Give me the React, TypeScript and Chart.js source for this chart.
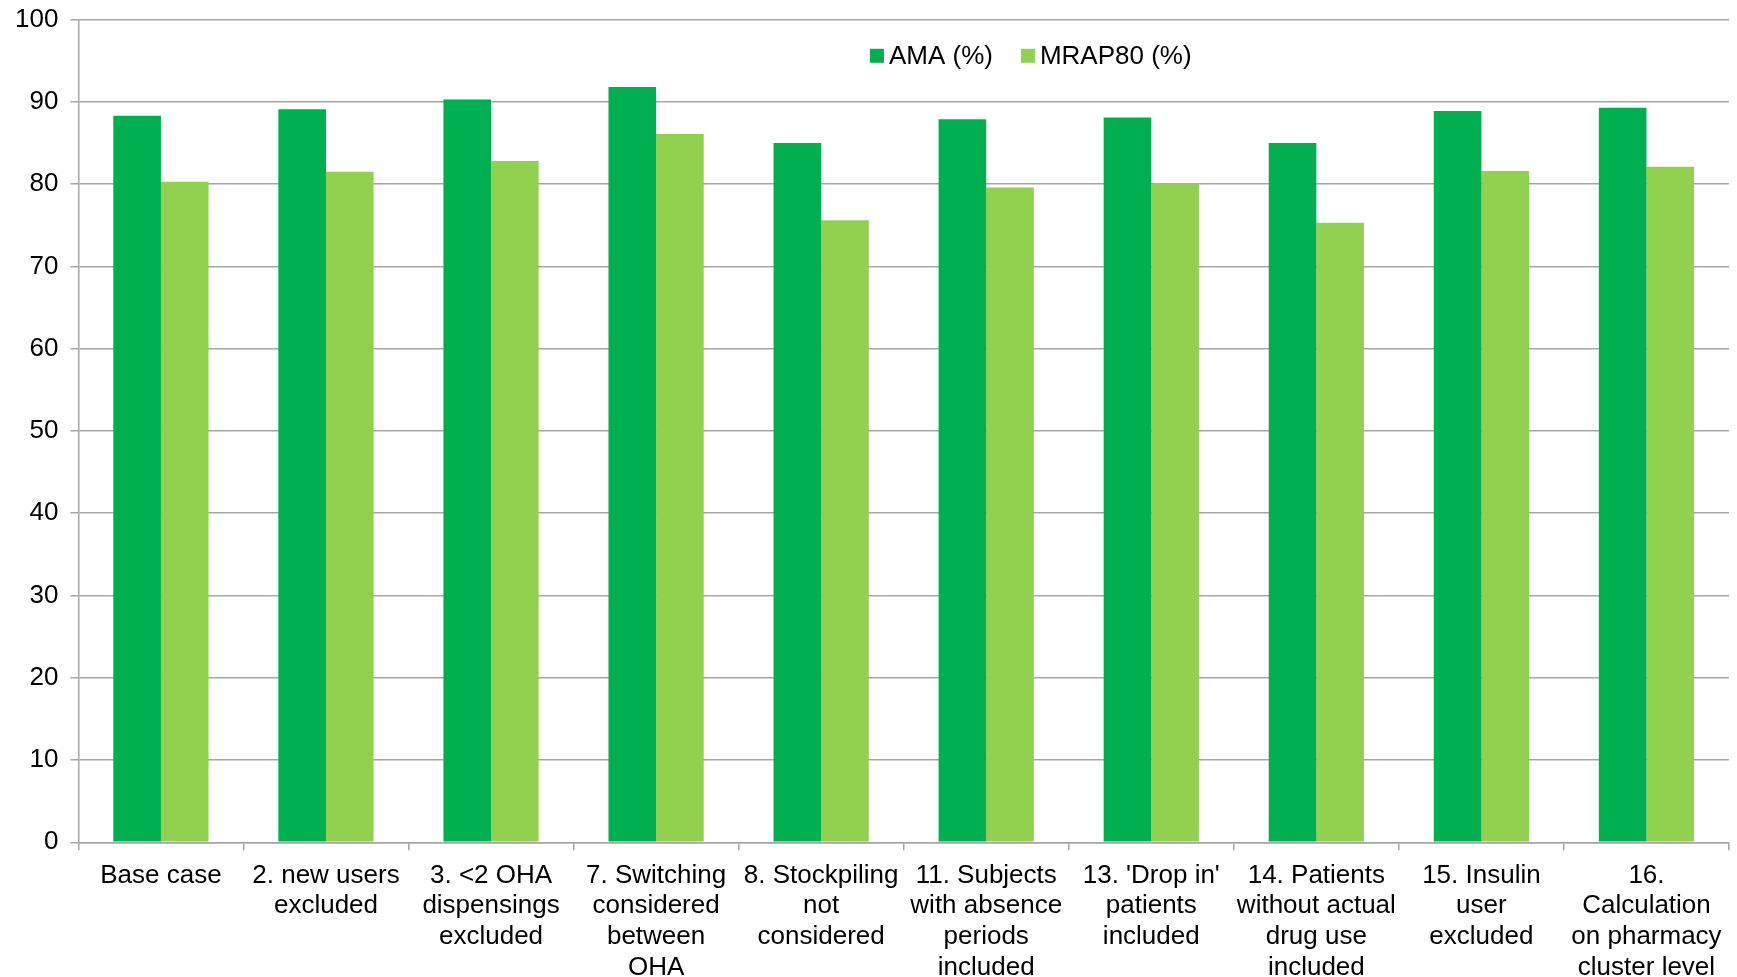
import React, { useEffect, useRef } from "react";
import { Chart, registerables } from "chart.js";

Chart.register(...registerables);

const categories: string[][] = [
  ["Base case"],
  ["2. new users", "excluded"],
  ["3. <2 OHA", "dispensings", "excluded"],
  ["7. Switching", "considered", "between", "OHA"],
  ["8. Stockpiling", "not", "considered"],
  ["11. Subjects", "with absence", "periods", "included"],
  ["13. 'Drop in'", "patients", "included"],
  ["14. Patients", "without actual", "drug use", "included"],
  ["15. Insulin", "user", "excluded"],
  ["16.", "Calculation", "on pharmacy", "cluster level"],
];

const amaValues = [88.3, 89.1, 90.3, 91.8, 85.0, 87.9, 88.1, 85.0, 88.9, 89.3];
const mrapValues = [80.3, 81.5, 82.8, 86.1, 75.6, 79.6, 80.1, 75.3, 81.6, 82.1];

const seriesLabels = ["AMA (%)", "MRAP80 (%)"];
const seriesColors = ["#00B050", "#92D050"];

const FONT = "'Liberation Sans', Arial, sans-serif";

const insideLegend = {
  id: "insideLegend",
  afterDraw(chart: any) {
    const ctx = chart.ctx;
    const x = chart.scales.x;
    const y = chart.scales.y;
    ctx.save();
    ctx.font = `26px ${FONT}`;
    ctx.textBaseline = "middle";
    ctx.textAlign = "left";
    const box = 14;
    const gap = 5;
    const between = 28;
    const widths = seriesLabels.map((l) => box + gap + ctx.measureText(l).width);
    const total = widths.reduce((a, b) => a + b, 0) + between;
    const cx = x.left + (x.right - x.left) * 0.577;
    const cy = y.getPixelForValue(95.6);
    let px = cx - total / 2;
    seriesLabels.forEach((l, i) => {
      ctx.fillStyle = seriesColors[i];
      ctx.fillRect(px, cy - box / 2, box, box);
      ctx.fillStyle = "#000";
      ctx.fillText(l, px + box + gap, cy + 1);
      px += widths[i] + between;
    });
    ctx.restore();
  },
};

export default function App() {
  const ref = useRef<HTMLCanvasElement | null>(null);

  useEffect(() => {
    if (!ref.current) return;
    const chart = new Chart(ref.current, {
      type: "bar",
      data: {
        labels: categories,
        datasets: [
          {
            label: seriesLabels[0],
            data: amaValues,
            backgroundColor: seriesColors[0],
            categoryPercentage: 0.577,
            barPercentage: 1,
          },
          {
            label: seriesLabels[1],
            data: mrapValues,
            backgroundColor: seriesColors[1],
            categoryPercentage: 0.577,
            barPercentage: 1,
          },
        ],
      },
      options: {
        animation: false,
        responsive: false,
        maintainAspectRatio: false,
        layout: { padding: { left: 3, right: 8, top: 4, bottom: 0 } },
        plugins: {
          legend: { display: false },
          tooltip: { enabled: false },
        },
        scales: {
          x: {
            grid: {
              display: true,
              offset: true,
              drawOnChartArea: false,
              drawTicks: true,
              tickLength: 8,
              color: "#a6a6a6",
              lineWidth: 1.5,
            },
            border: { display: true, color: "#a6a6a6", width: 1.5 },
            ticks: {
              color: "#000",
              font: { family: FONT, size: 26, lineHeight: 1.18 },
              padding: 10,
              maxRotation: 0,
              minRotation: 0,
              autoSkip: false,
            },
          },
          y: {
            min: 0,
            max: 100,
            grid: {
              color: "#a6a6a6",
              lineWidth: 1.5,
              drawTicks: true,
              tickLength: 8,
            },
            border: { display: true, color: "#a6a6a6", width: 1.5 },
            ticks: {
              stepSize: 10,
              color: "#000",
              font: { family: FONT, size: 26 },
              padding: 12,
            },
          },
        },
      },
      plugins: [insideLegend],
    });
    return () => chart.destroy();
  }, []);

  return (
    <div style={{ position: "fixed", left: 0, top: 0, width: 1737, height: 977, background: "#fff", overflow: "hidden" }}>
      <canvas
        ref={ref}
        width={1737}
        height={1001}
        style={{ position: "absolute", left: 0, top: -8, width: 1737, height: 1001, display: "block" }}
      />
    </div>
  );
}
